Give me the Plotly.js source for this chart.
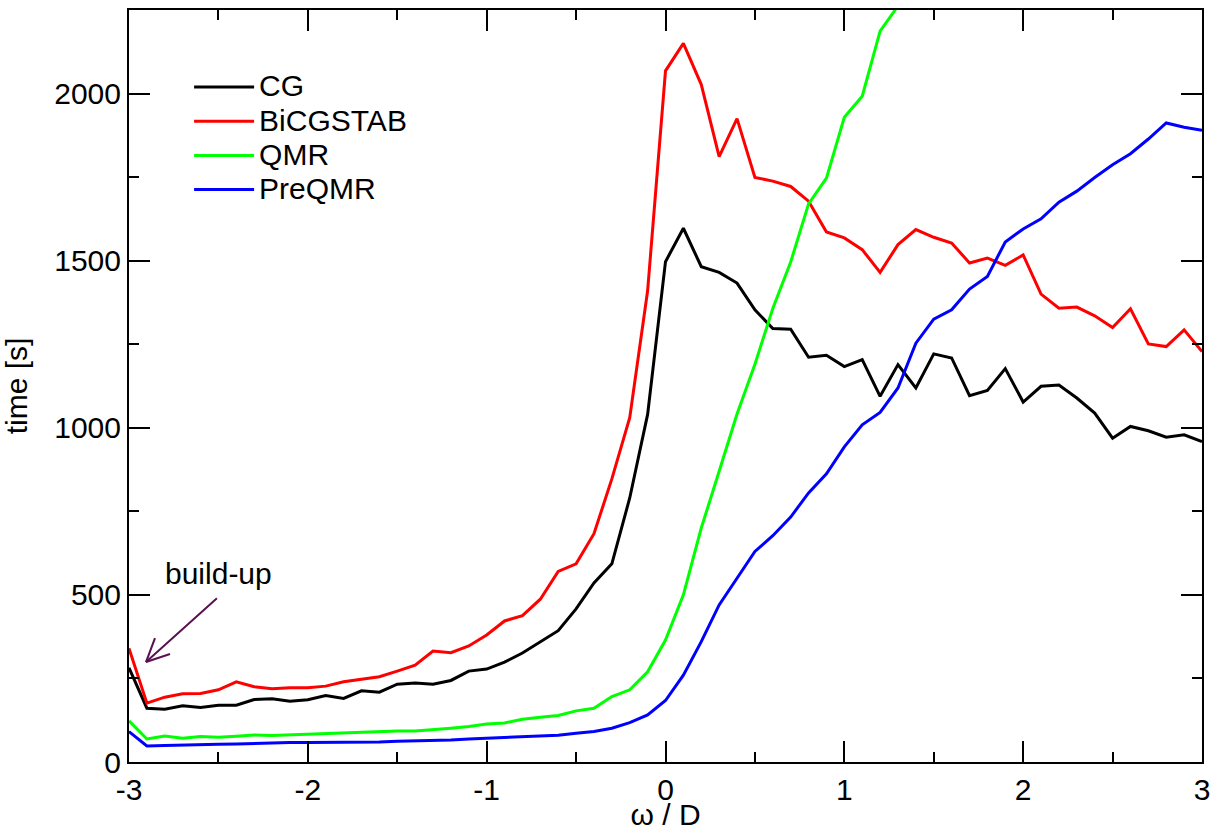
<!DOCTYPE html>
<html>
<head>
<meta charset="utf-8">
<script src="https://cdn.plot.ly/plotly-3.0.1.min.js"></script>
<style>html,body{margin:0;padding:0;background:#fff;}#plot{width:1216px;height:831px;}</style>
</head>
<body>
<div id="plot"></div>
<script>
var omega = [-3.0,-2.9,-2.8,-2.7,-2.6,-2.5,-2.4,-2.3,-2.2,-2.1,-2.0,-1.9,-1.8,-1.7,-1.6,-1.5,-1.4,-1.3,-1.2,-1.1,-1.0,-0.9,-0.8,-0.7,-0.6,-0.5,-0.4,-0.3,-0.2,-0.1,0.0,0.1,0.2,0.3,0.4,0.5,0.6,0.7,0.8,0.9,1.0,1.1,1.2,1.3,1.4,1.5,1.6,1.7,1.8,1.9,2.0,2.1,2.2,2.3,2.4,2.5,2.6,2.7,2.8,2.9,3.0];

var cgTime = [282,161,158,168,163,170,170,187,189,182,186,199,190,213,209,233,236,233,244,272,278,299,326,360,393,458,536,593,790,1040,1497,1597,1482,1465,1433,1353,1297,1295,1211,1217,1183,1204,1094,1189,1119,1221,1209,1096,1112,1177,1077,1124,1128,1089,1044,969,1004,991,972,979,959];

var bicgstabTime = [340,176,194,204,205,216,240,225,219,222,222,227,240,248,255,272,290,332,327,347,380,422,438,487,570,593,683,847,1030,1410,2068,2150,2027,1811,1925,1749,1738,1722,1678,1586,1568,1533,1465,1548,1593,1570,1553,1493,1508,1486,1517,1400,1358,1361,1335,1300,1356,1251,1243,1293,1228];

var qmrOmega = [-3.0,-2.9,-2.8,-2.7,-2.6,-2.5,-2.4,-2.3,-2.2,-2.1,-2.0,-1.9,-1.8,-1.7,-1.6,-1.5,-1.4,-1.3,-1.2,-1.1,-1.0,-0.9,-0.8,-0.7,-0.6,-0.5,-0.4,-0.3,-0.2,-0.1,0.0,0.1,0.2,0.3,0.4,0.5,0.6,0.7,0.8,0.9,1.0,1.1,1.2,1.3,1.4];
var qmrTime = [123,69,78,71,76,74,77,81,79,81,83,86,88,88,91,93,93,96,101,106,114,117,128,134,139,153,161,196,216,270,365,500,700,870,1041,1190,1357,1496,1670,1747,1929,1992,2187,2262,2420];

var preqmrTime = [91,48,49,51,51,53,54,56,58,58,58,58,59,59,60,62,63,64,66,69,71,72,74,76,80,86,91,101,118,141,184,260,360,470,551,630,677,733,805,862,943,1009,1046,1119,1253,1325,1353,1415,1453,1556,1595,1625,1675,1708,1749,1787,1820,1864,1912,1899,1890];

var seriesNames = ['CG','BiCGSTAB','QMR','PreQMR'];
var seriesColors = ['#000000','#ff0000','#00ff00','#0000ff'];

var xTickVals = [-3,-2,-1,0,1,2,3];
var xTickText = ['-3','-2','-1','0','1','2','3'];
var xMinorVals = [-2.5,-1.5,-0.5,0.5,1.5,2.5];

var FONT = 'Liberation Sans, Arial, Helvetica, sans-serif';

function legendName(s) { return '<span style="font-size:30px">' + s + '</span>'; }

var traces = [
  {x: omega, y: cgTime, name: legendName(seriesNames[0]), mode: 'lines', line: {color: seriesColors[0], width: 3}},
  {x: omega, y: bicgstabTime, name: legendName(seriesNames[1]), mode: 'lines', line: {color: seriesColors[1], width: 3}},
  {x: qmrOmega, y: qmrTime, name: legendName(seriesNames[2]), mode: 'lines', line: {color: seriesColors[2], width: 3}},
  {x: omega, y: preqmrTime, name: legendName(seriesNames[3]), mode: 'lines', line: {color: seriesColors[3], width: 3}}
];

var axisCommon = {
  showgrid: false, zeroline: false, showline: true, linecolor: '#000', linewidth: 2,
  mirror: 'allticks', ticks: 'inside', ticklen: 21, tickwidth: 2, tickcolor: '#000',
  tickfont: {family: FONT, size: 30, color: '#000'}
};

var ARROW = '#5a1150';

var layout = {
  width: 1216, height: 831,
  margin: {l: 129, r: 14, t: 10, b: 69},
  paper_bgcolor: '#fff', plot_bgcolor: '#fff',
  font: {family: FONT, color: '#000'},
  showlegend: true,
  legend: {x: 0.056, y: 0.927, xanchor: 'left', yanchor: 'top', bgcolor: 'rgba(0,0,0,0)', borderwidth: 0,
           font: {family: FONT, size: 24, color: '#000'}, itemwidth: 60},
  xaxis: Object.assign({}, axisCommon, {
    range: [-3, 3], tickmode: 'array', tickvals: xTickVals, ticktext: xTickText,
    minor: {tickmode: 'array', tickvals: xMinorVals, ticklen: 10, tickwidth: 2, tickcolor: '#000', ticks: 'inside'},
    title: {text: 'ω / D', font: {family: FONT, size: 30, color: '#000'}, standoff: 5}
  }),
  yaxis: Object.assign({}, axisCommon, {
    range: [0, 2250], dtick: 500, tick0: 0,
    minor: {dtick: 250, ticklen: 10, tickwidth: 2, tickcolor: '#000', ticks: 'inside'},
    title: {text: 'time [s]', font: {family: FONT, size: 30, color: '#000'}, standoff: 20}
  }),
  shapes: [
    {type: 'line', xref: 'x', yref: 'y', xsizemode: 'pixel', ysizemode: 'pixel', xanchor: -2.905, yanchor: 299,
     x0: 0, y0: 0, x1: 9, y1: 24, line: {color: ARROW, width: 2}},
    {type: 'line', xref: 'x', yref: 'y', xsizemode: 'pixel', ysizemode: 'pixel', xanchor: -2.905, yanchor: 299,
     x0: 0, y0: 0, x1: 24, y1: 8, line: {color: ARROW, width: 2}}
  ],
  annotations: [
    {x: -2.905, y: 299, ax: -2.5, ay: 494, axref: 'x', ayref: 'y', xref: 'x', yref: 'y',
     text: '', showarrow: true, arrowhead: 0, arrowwidth: 2, arrowcolor: ARROW, standoff: 0, startstandoff: 0},
    {x: -2.497, y: 563, xref: 'x', yref: 'y', text: 'build-up', showarrow: false,
     font: {family: FONT, size: 30, color: '#000'}}
  ]
};

Plotly.newPlot('plot', traces, layout, {displayModeBar: false, staticPlot: true});
</script>
</body>
</html>
